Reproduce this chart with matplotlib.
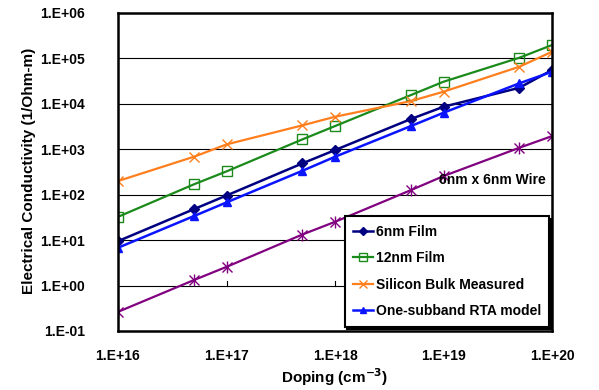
import numpy as np
import matplotlib.pyplot as plt
from matplotlib.ticker import FixedLocator, FuncFormatter

plt.rcParams['font.family'] = ['Liberation Sans', 'DejaVu Sans']
plt.rcParams['font.weight'] = 'bold'

# doping levels (cm^-3)
doping = [1e16, 5e16, 1e17, 5e17, 1e18, 5e18, 1e19, 5e19, 1e20]

# conductivity (1/Ohm-m)
film_6nm = [9.5, 48, 96, 489, 960, 4630, 8630, 22600, 55500]
film_12nm = [32.6, 169, 326, 1650, 3240, 15600, 30700, 103500, 197000]
bulk_measured = [200, 684, 1280, 3360, 5200, 11500, 18500, 65700, 140000]
rta_model = [6.8, 33.8, 67.7, 336, 684, 3240, 6370, 28300, 50900]
wire_6x6 = [0.264, 1.32, 2.58, 13.3, 25.3, 126, 257, 1080, 1950]

x_ticks = [1e16, 1e17, 1e18, 1e19, 1e20]
y_ticks = [1e-1, 1e0, 1e1, 1e2, 1e3, 1e4, 1e5, 1e6]

fig = plt.figure(figsize=(5.99, 3.90), dpi=100)
ax = fig.add_axes([118 / 599, 59 / 390, 434 / 599, 318 / 390])

ax.set_xscale('log')
ax.set_yscale('log')
ax.set_xlim(1e16, 1e20)
ax.set_ylim(1e-1, 1e6)

# horizontal grid
for yv in y_ticks[1:-1]:
    ax.axhline(yv, color='black', lw=0.8, zorder=1)

# tick marks where the category axis crosses (y = 1)
for xv in x_ticks[1:]:
    ax.plot([xv, xv], [1.0, 1.0 * 10 ** 0.09], color='black', lw=0.8, zorder=1)

ax.plot(doping, wire_6x6, color='#800080', lw=1.6, marker='x', ms=7, mew=1.0, zorder=3)
ax.plot(doping, wire_6x6, ls='none', color='#800080', marker='|', ms=8, mew=1.0, zorder=3)
l1, = ax.plot(doping, film_6nm, color='#000080', lw=1.8, marker='D', ms=5, zorder=4, label='6nm Film')
l2, = ax.plot(doping, film_12nm, color='#1a8a1a', lw=1.6, marker='s', ms=7, mfc='none', mew=1.0,
              zorder=4, label='12nm Film')
l3, = ax.plot(doping, bulk_measured, color='#ff7f1e', lw=1.6, marker='x', ms=7, mew=1.0, zorder=4,
              label='Silicon Bulk Measured')
l4, = ax.plot(doping, rta_model, color='#0a14ff', lw=1.8, marker='^', ms=6, zorder=4,
              label='One-subband RTA model')

ax.text(0.74, 0.475, '6nm x 6nm Wire', transform=ax.transAxes, fontsize=10, fontweight='bold',
        ha='left', va='center', zorder=5)

ax.xaxis.set_major_locator(FixedLocator(x_ticks))
ax.yaxis.set_major_locator(FixedLocator(y_ticks))
ax.xaxis.set_minor_locator(FixedLocator([]))
ax.yaxis.set_minor_locator(FixedLocator([]))
fmt = FuncFormatter(lambda v, p: '1.E%+03d' % int(round(np.log10(v))))
ax.xaxis.set_major_formatter(fmt)
ax.yaxis.set_major_formatter(fmt)
ax.tick_params(axis='both', length=0, labelsize=10)
ax.tick_params(axis='y', pad=24)
ax.tick_params(axis='x', pad=13)

for s in ax.spines.values():
    s.set_linewidth(1.8)
    s.set_zorder(6)

leg = ax.legend(handles=[l1, l2, l3, l4], loc='lower right', bbox_to_anchor=(0.994, 0.014),
                fontsize=10, frameon=True, fancybox=False,
                shadow={'color': 'black', 'alpha': 1.0, 'ox': 2, 'oy': -2},
                edgecolor='black', framealpha=1, handlelength=1.45, handletextpad=0.2,
                borderpad=0.6, labelspacing=0.9, markerscale=0.8, borderaxespad=0)
leg.get_frame().set_linewidth(1.5)
leg.set_zorder(7)

fig.text(29 / 599, 1 - 171 / 390, 'Electrical Conductivity (1/Ohm-m)', rotation=90, ha='center',
         va='center', fontsize=11, fontweight='bold')
fig.text(335 / 599, 1 - 377 / 390, 'Doping (cm$^{\\mathbf{-3}}$)', ha='center', va='center',
         fontsize=11, fontweight='bold')

fig.savefig('out.png', dpi=100)
